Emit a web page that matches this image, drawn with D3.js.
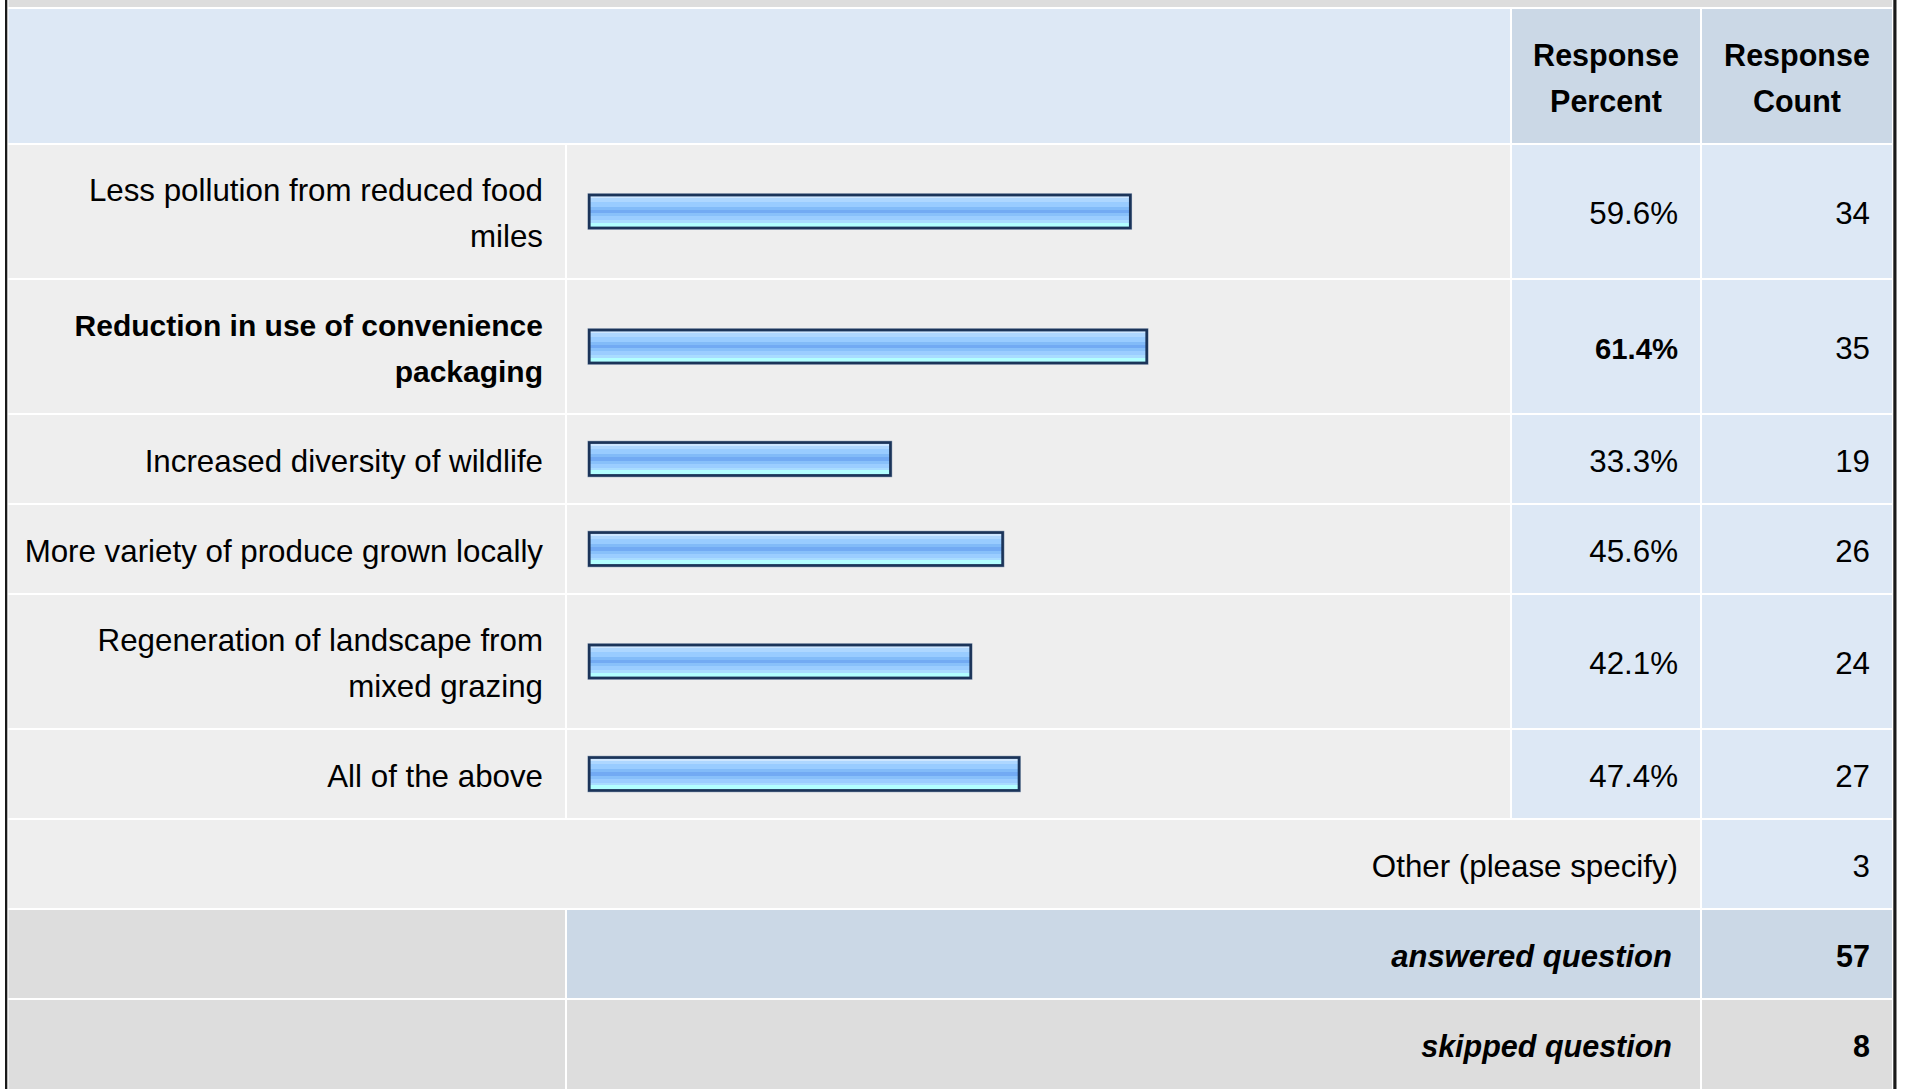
<!DOCTYPE html>
<html>
<head>
<meta charset="utf-8">
<script src="https://cdn.jsdelivr.net/npm/d3@7"></script>
<style>
  html, body { margin: 0; padding: 0; background: #fff; }
  svg { display: block; }
  text { font-family: "Liberation Sans", Arial, sans-serif; fill: #000; }
</style>
</head>
<body>
<div id="chart"></div>
<script>
// answer options (one entry per line of the label)
const categories = [
  ["Less pollution from reduced food", "miles"],
  ["Reduction in use of convenience", "packaging"],
  ["Increased diversity of wildlife"],
  ["More variety of produce grown locally"],
  ["Regeneration of landscape from", "mixed grazing"],
  ["All of the above"]
];
const percents = [59.6, 61.4, 33.3, 45.6, 42.1, 47.4];
const counts = [34, 35, 19, 26, 24, 27];
const headerPercent = ["Response", "Percent"];
const headerCount = ["Response", "Count"];
const otherLabel = "Other (please specify)";
const otherCount = 3;
const answeredLabel = "answered question";
const answeredCount = 57;
const skippedLabel = "skipped question";
const skippedCount = 8;

const W = 1907, H = 1089;
const fsRegular = 31.3, fsBold = 30, fsHead = 30.5;
const lineGap = 46;

// columns
const col = {
  left: 8.5, labelEnd: 565, barStart: 567, barEnd: 1510,
  pctStart: 1512, pctEnd: 1700, cntStart: 1702, cntEnd: 1892
};

const x = d3.scaleLinear().domain([0, 100]).range([588, 1500]);

const svg = d3.select('#chart').append('svg')
  .attr('width', W).attr('height', H);

// bar gradient (banded like the original image)
const defs = svg.append('defs');
const grad = defs.append('linearGradient')
  .attr('id', 'barGrad').attr('x1', 0).attr('y1', 0).attr('x2', 0).attr('y2', 1);
[
  [0, '#cde6ff'], [0.1, '#cde6ff'], [0.1, '#aed7ff'], [0.2, '#aed7ff'],
  [0.2, '#99ccff'], [0.36, '#99ccff'], [0.36, '#82bbf8'], [0.44, '#82bbf8'],
  [0.44, '#72aaf3'], [0.56, '#72aaf3'], [0.56, '#88c0fa'], [0.64, '#88c0fa'],
  [0.64, '#9bcdff'], [0.76, '#9bcdff'], [0.76, '#a9dcff'], [0.84, '#a9dcff'],
  [0.84, '#b2ffff'], [1, '#b2ffff']
].forEach(([o, c]) => grad.append('stop').attr('offset', o).attr('stop-color', c));

// layers: cells below, marks and text above
const cellLayer = svg.append('g');
const barLayer = svg.append('g');
const textLayer = svg.append('g');

// background + table borders
cellLayer.append('rect').attr('width', W).attr('height', H).attr('fill', '#fff');
cellLayer.append('rect').attr('x', col.left).attr('y', 0)
  .attr('width', col.cntEnd - col.left).attr('height', 7).attr('fill', '#dddddd');
cellLayer.append('rect').attr('x', 5).attr('y', 0).attr('width', 2.3).attr('height', H).attr('fill', '#1a1a1a');
cellLayer.append('rect').attr('x', 1893.3).attr('y', 0).attr('width', 3.2).attr('height', H).attr('fill', '#1a1a1a');

const cell = (x0, x1, y0, h, fill) => cellLayer.append('rect')
  .attr('x', x0).attr('y', y0).attr('width', x1 - x0).attr('height', h).attr('fill', fill);

const textLines = (lines, xPos, cy, anchor, size, weight, style) => {
  const n = lines.length;
  lines.forEach((t, i) => {
    textLayer.append('text')
      .attr('x', xPos)
      .attr('y', cy + (i - (n - 1) / 2) * lineGap + 12.5)
      .attr('text-anchor', anchor)
      .style('font-size', size + 'px')
      .style('font-weight', weight || 'normal')
      .style('font-style', style || 'normal')
      .text(t);
  });
};

// header row
const headY = 9, headH = 134;
cell(col.left, col.barEnd, headY, headH, '#dde8f5');
cell(col.pctStart, col.pctEnd, headY, headH, '#cbd8e6');
cell(col.cntStart, col.cntEnd, headY, headH, '#cbd8e6');
textLines(headerPercent, (col.pctStart + col.pctEnd) / 2, headY + headH / 2, 'middle', fsHead, 'bold');
textLines(headerCount, (col.cntStart + col.cntEnd) / 2, headY + headH / 2, 'middle', fsHead, 'bold');

// data rows
const maxPct = d3.max(percents);
let y = headY + headH + 2;
const rowData = categories.map((c, i) => ({ label: c, pct: percents[i], count: counts[i] }));
rowData.forEach(d => {
  const h = d.label.length > 1 ? 133 : 88;
  d.y = y; d.h = h; d.cy = y + h / 2;
  y += h + 2;
});

rowData.forEach(d => {
  cell(col.left, col.labelEnd, d.y, d.h, '#eeeeee');
  cell(col.barStart, col.barEnd, d.y, d.h, '#eeeeee');
  cell(col.pctStart, col.pctEnd, d.y, d.h, '#dde8f5');
  cell(col.cntStart, col.cntEnd, d.y, d.h, '#dde8f5');
});

// bars
const bars = barLayer.selectAll('g.bar').data(rowData).enter().append('g').attr('class', 'bar');
bars.append('rect')
  .attr('x', x(0) - 0.5).attr('y', d => d.cy - 18.2)
  .attr('width', d => x(d.pct) - x(0) + 1).attr('height', 36.4)
  .attr('fill', '#7f91aa');
bars.append('rect')
  .attr('x', x(0) + 1.3).attr('y', d => d.cy - 16.4)
  .attr('width', d => x(d.pct) - x(0) - 2.6).attr('height', 32.8)
  .attr('fill', 'url(#barGrad)')
  .attr('stroke', '#1b3459').attr('stroke-width', 2.6);

rowData.forEach(d => {
  const isMax = d.pct === maxPct;
  const b = isMax ? 'bold' : 'normal';
  const s = isMax ? fsBold : fsRegular;
  textLines(d.label, 543, d.cy, 'end', s, b);
  textLines([d.pct.toFixed(1) + '%'], 1678, d.cy, 'end', isMax ? 29.3 : fsRegular, b);
  textLines([String(d.count)], 1870, d.cy, 'end', fsRegular);
});

// other row
const oy = y, oh = 88;
cell(col.left, col.pctEnd, oy, oh, '#eeeeee');
cell(col.cntStart, col.cntEnd, oy, oh, '#dde8f5');
textLines([otherLabel], 1678, oy + oh / 2, 'end', fsRegular);
textLines([String(otherCount)], 1870, oy + oh / 2, 'end', fsRegular);
y += oh + 2;

// answered row
const ay = y;
cell(col.left, col.labelEnd, ay, 88, '#dddddd');
cell(col.barStart, col.pctEnd, ay, 88, '#cbd8e6');
cell(col.cntStart, col.cntEnd, ay, 88, '#cbd8e6');
textLines([answeredLabel], 1672, ay + 44, 'end', 31, 'bold', 'italic');
textLines([String(answeredCount)], 1870, ay + 44, 'end', fsHead, 'bold');
y += 90;

// skipped row
const sy = y;
cell(col.left, col.labelEnd, sy, 90, '#dddddd');
cell(col.barStart, col.pctEnd, sy, 90, '#dddddd');
cell(col.cntStart, col.cntEnd, sy, 90, '#dddddd');
textLines([skippedLabel], 1672, sy + 44, 'end', fsHead, 'bold', 'italic');
textLines([String(skippedCount)], 1870, sy + 44, 'end', fsHead, 'bold');
</script>
</body>
</html>
